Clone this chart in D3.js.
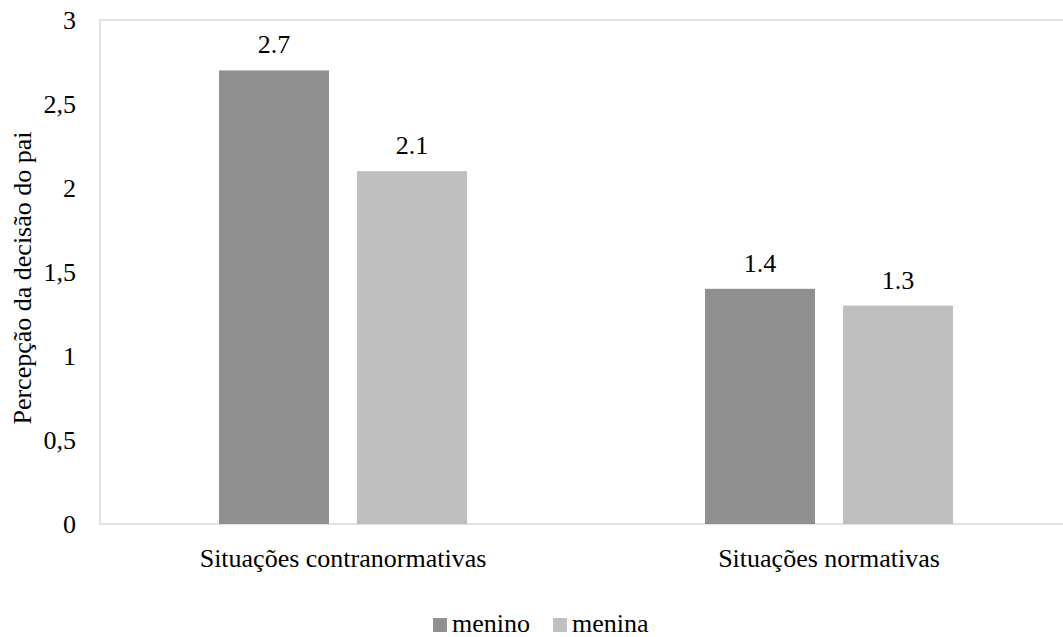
<!DOCTYPE html>
<html><head><meta charset="utf-8">
<script src="https://cdn.jsdelivr.net/npm/d3@7"></script>
</head><body style="margin:0">
<svg id="c" width="1063" height="637" font-family="Liberation Serif"></svg>
<script>
const categories = ["Situações contranormativas", "Situações normativas"];
const seriesNames = ["menino", "menina"];
const menino = [2.7, 1.4];
const menina = [2.1, 1.3];
const yTicks = [0, 0.5, 1, 1.5, 2, 2.5, 3];
const colors = ["#8f8f8f", "#bfbfbf"];

const svg = d3.select("#c");
const pL = 100, pR = 1072, pT = 20, pB = 524;
const x0 = d3.scaleBand().domain(categories).range([pL, pR]).padding(0);
const x1 = d3.scaleBand().domain(seriesNames).range([0, 248]).paddingInner(0.203).paddingOuter(0);
const y = d3.scaleLinear().domain([0, 3]).range([pB, pT]);

svg.append("rect").attr("x", pL).attr("y", pT).attr("width", pR - pL).attr("height", pB - pT)
  .attr("fill", "none").attr("stroke", "#d9d9d9").attr("stroke-width", 1.5);

const yAxis = d3.axisLeft(y).tickValues(yTicks).tickSize(0).tickPadding(24)
  .tickFormat(d => String(d).replace(".", ","));
const ga = svg.append("g").attr("transform", `translate(${pL},0)`).call(yAxis);
ga.attr("font-family", "Liberation Serif").attr("font-size", 26);
ga.select(".domain").remove();
ga.selectAll("text").attr("fill", "#000");

const data = categories.map((c, i) => ({cat: c, vals: [menino[i], menina[i]]}));
data.forEach(d => {
  const gx = x0(d.cat) + (x0.bandwidth() - 248) / 2;
  d.vals.forEach((v, j) => {
    const bx = gx + x1(seriesNames[j]);
    svg.append("rect").attr("x", bx).attr("y", y(v)).attr("width", x1.bandwidth())
      .attr("height", y(0) - y(v)).attr("fill", colors[j]);
    svg.append("text").attr("x", bx + x1.bandwidth() / 2).attr("y", y(v) - 17)
      .attr("text-anchor", "middle").attr("font-family", "Liberation Serif").attr("font-size", 26).text(v.toFixed(1));
  });
  svg.append("text").attr("x", x0(d.cat) + x0.bandwidth() / 2).attr("y", 567)
    .attr("text-anchor", "middle").attr("font-family", "Liberation Serif").attr("font-size", 26).text(d.cat);
});

svg.append("text").attr("transform", "translate(31,278) rotate(-90)").attr("text-anchor", "middle")
  .attr("font-family", "Liberation Serif").attr("font-size", 26).text("Percepção da decisão do pai");

const legX = [433, 553];
seriesNames.forEach((s, j) => {
  svg.append("rect").attr("x", legX[j]).attr("y", 618).attr("width", 14).attr("height", 14).attr("fill", colors[j]);
  svg.append("text").attr("x", legX[j] + 19).attr("y", 632).attr("font-family", "Liberation Serif").attr("font-size", 26).text(s);
});
</script>
</body></html>
